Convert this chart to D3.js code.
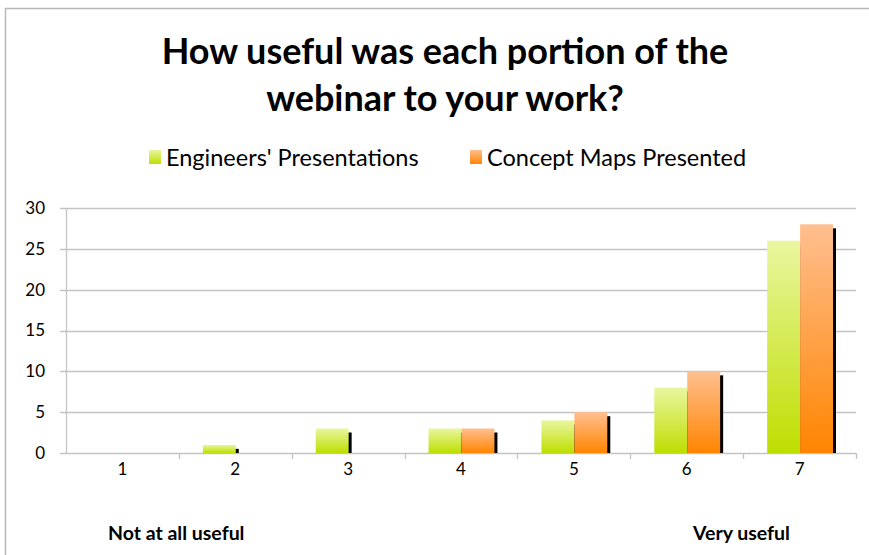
<!DOCTYPE html>
<html>
<head>
<meta charset="utf-8">
<script src="https://cdn.jsdelivr.net/npm/d3@7"></script>
<style>
  body { margin: 0; background: #fff; }
  text { font-family: Lato, "Open Sans", sans-serif; fill: #000; }
</style>
</head>
<body>
<svg width="869" height="555"></svg>
<script>
var width = 869;
var height = 555;

// data
var categories = ["1", "2", "3", "4", "5", "6", "7"];
var seriesNames = ["Engineers' Presentations", "Concept Maps Presented"];
var engineers = [0, 1, 3, 3, 4, 8, 26];
var conceptMaps = [0, 0, 0, 3, 5, 10, 28];
var yTicks = [0, 5, 10, 15, 20, 25, 30];
var titleLines = ["How useful was each portion of the", "webinar to your work?"];

var margin = {left: 66, right: 13, top: 208, bottom: 102};

var svg = d3.select("svg");

// outer frame (top and left edges only show)
svg.append("path")
    .attr("d", "M5.5,555 L5.5,8.5 L869,8.5")
    .attr("fill", "none")
    .attr("stroke", "#b8b8b8")
    .attr("stroke-width", 1.5);

var x = d3.scaleBand()
    .domain(categories)
    .range([margin.left, width - margin.right]);

// two bars per category, centred with a gap on both sides
var inner = d3.scaleBand()
    .domain([0, 1])
    .range([24, x.bandwidth() - 23]);

var y = d3.scaleLinear()
    .domain([0, 30])
    .range([height - margin.bottom, margin.top]);

var defs = svg.append("defs");
var grads = [
    {id: "gGreen", top: "#eaf6a0", bottom: "#bede00"},
    {id: "gOrange", top: "#ffbf90", bottom: "#ff8500"}
];
grads.forEach(function(g) {
    var lg = defs.append("linearGradient")
        .attr("id", g.id)
        .attr("x1", 0).attr("y1", 0).attr("x2", 0).attr("y2", 1);
    lg.append("stop").attr("offset", "0%").attr("stop-color", g.top);
    lg.append("stop").attr("offset", "100%").attr("stop-color", g.bottom);
});

// gridlines
svg.append("g")
    .selectAll("line")
    .data(yTicks)
    .join("line")
    .attr("x1", margin.left - 6)
    .attr("x2", width - margin.right)
    .attr("y1", d => Math.round(y(d)) + 0.5)
    .attr("y2", d => Math.round(y(d)) + 0.5)
    .attr("stroke", "#c4c4c4")
    .attr("stroke-width", 1.3);

// y axis line
svg.append("line")
    .attr("x1", margin.left + 0.5).attr("x2", margin.left + 0.5)
    .attr("y1", y(30)).attr("y2", y(0) + 1)
    .attr("stroke", "#c4c4c4")
    .attr("stroke-width", 1.3);

// x axis tick marks at category boundaries
var boundaries = categories.slice(1).map(d => x(d)).concat([x(categories[6]) + x.bandwidth()]);
svg.append("g")
    .selectAll("line")
    .data(boundaries)
    .join("line")
    .attr("x1", d => Math.round(d) + 0.5)
    .attr("x2", d => Math.round(d) + 0.5)
    .attr("y1", y(0))
    .attr("y2", y(0) + 6)
    .attr("stroke", "#c4c4c4")
    .attr("stroke-width", 1.3);

// y tick labels
svg.append("g")
    .selectAll("text")
    .data(yTicks)
    .join("text")
    .attr("x", 45)
    .attr("y", d => y(d))
    .attr("dy", "0.35em")
    .attr("text-anchor", "end")
    .attr("font-size", 17)
    .text(d => d);

// x tick labels
svg.append("g")
    .selectAll("text")
    .data(categories)
    .join("text")
    .attr("x", d => x(d) + x.bandwidth() / 2)
    .attr("y", y(0) + 16)
    .attr("dy", "0.35em")
    .attr("text-anchor", "middle")
    .attr("font-size", 17)
    .text(d => d);

// bars
var series = [engineers, conceptMaps];
var barFill = ["url(#gGreen)", "url(#gOrange)"];

var barData = [];
series.forEach(function(vals, s) {
    vals.forEach(function(v, i) {
        barData.push({cat: categories[i], s: s, v: v});
    });
});

// shadows first, then bars on top (next bar hides the previous bar's shadow)
svg.append("g")
    .selectAll("rect")
    .data(barData.filter(d => d.v > 0))
    .join("rect")
    .attr("x", d => x(d.cat) + inner(d.s) + inner.bandwidth() - 1)
    .attr("y", d => y(d.v) + 4)
    .attr("width", 4)
    .attr("height", d => y(0) - y(d.v) - 4)
    .attr("fill", "#000");

var bars = svg.append("g");
bars.selectAll("rect")
    .data(barData.filter(d => d.v > 0).sort((a, b) => a.s - b.s))
    .join("rect")
    .attr("x", d => x(d.cat) + inner(d.s))
    .attr("y", d => y(d.v))
    .attr("width", inner.bandwidth())
    .attr("height", d => y(0) - y(d.v))
    .attr("fill", d => barFill[d.s]);

// title
svg.append("g")
    .selectAll("text")
    .data(titleLines)
    .join("text")
    .attr("x", 445)
    .attr("y", (d, i) => 64 + i * 47)
    .attr("text-anchor", "middle")
    .attr("font-size", 36)
    .attr("font-weight", "bold")
    .text(d => d);

// legend
var legendX = [149, 470];
var legend = svg.append("g")
    .selectAll("g")
    .data(seriesNames)
    .join("g")
    .attr("transform", (d, i) => "translate(" + legendX[i] + ",150)");

legend.append("rect")
    .attr("width", 12)
    .attr("height", 14)
    .attr("fill", (d, i) => barFill[i]);

legend.append("text")
    .attr("x", 17)
    .attr("y", 16)
    .attr("font-size", 23.5)
    .text(d => d);

// scale end labels
svg.append("text")
    .attr("x", 108)
    .attr("y", 540)
    .attr("font-size", 19.5)
    .attr("font-weight", "bold")
    .text("Not at all useful");

svg.append("text")
    .attr("x", 693)
    .attr("y", 540)
    .attr("font-size", 19.5)
    .attr("font-weight", "bold")
    .text("Very useful");
</script>
</body>
</html>
